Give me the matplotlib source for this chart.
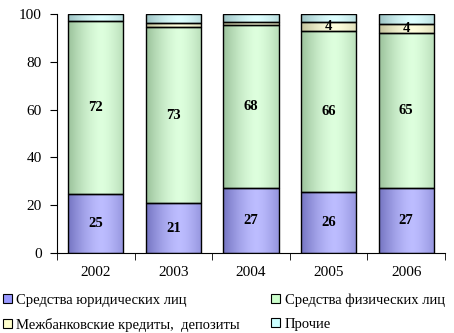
import numpy as np
import matplotlib
matplotlib.use("Agg")
import matplotlib.pyplot as plt
from matplotlib.colors import to_rgb
from matplotlib.patches import Rectangle

years = ['2002', '2003', '2004', '2005', '2006']
legal = [24.5, 20.8, 27.0, 25.4, 27.0]
private = [72.4, 73.6, 68.3, 67.5, 64.9]
interbank = [0.0, 2.0, 1.5, 3.6, 4.1]
other = [3.1, 3.6, 3.2, 3.5, 4.0]

legal_lbl = ['25', '21', '27', '26', '27']
private_lbl = ['72', '73', '68', '66', '65']
interbank_lbl = ['', '', '', '4', '4']

names = ['Средства юридических лиц', 'Средства физических лиц',
         'Межбанковские кредиты,  депозиты', 'Прочие']
colors = ['#9999FF', '#CCFFCC', '#FFFFCC', '#CCFFFF']

plt.rcParams['font.family'] = ['Liberation Serif', 'DejaVu Serif']

fig = plt.figure(figsize=(4.54, 3.33), dpi=100)
ax = fig.add_axes([57/454, 1 - 253/333, 388/454, 239/333])

x = np.arange(len(years))
width = 0.71
t = np.linspace(0, 1, 64)
shade = np.abs(t - 0.6) / 0.6


def grad_bar(xc, bottom, h, color):
    if h <= 0:
        return
    base = np.array(to_rgb(color))
    light = base + (1 - base) * 0.35
    dark = base * 0.76
    w = shade[:, None] ** 1.5
    img = light[None, :] * (1 - w) + dark[None, :] * w
    ax.imshow(img[None, :, :], extent=(xc - width/2, xc + width/2, bottom, bottom + h),
              aspect='auto', interpolation='bilinear', zorder=2)
    ax.add_patch(Rectangle((xc - width/2, bottom), width, h, fill=False,
                           edgecolor='black', linewidth=1.0, zorder=3))


series = [legal, private, interbank, other]
labels = [legal_lbl, private_lbl, interbank_lbl, None]
for i in x:
    bottom = 0.0
    for s, lbl, c in zip(series, labels, colors):
        h = s[i]
        grad_bar(i, bottom, h, c)
        if lbl is not None and lbl[i]:
            ax.text(i, bottom + h/2, lbl[i], ha='center', va='center',
                    fontsize=10.5, fontweight='bold', zorder=4)
        bottom += h

ax.set_xlim(-0.5, len(years) - 0.5)
ax.set_ylim(0, 100)
ax.set_yticks(range(0, 101, 20))
ax.set_xticks(x)
ax.set_xticklabels(years)
ax.set_xticks(np.arange(-0.5, len(years)), minor=True)
ax.tick_params(axis='x', which='major', length=0, pad=9, labelsize=11)
ax.tick_params(axis='x', which='minor', length=5, direction='out')
ax.tick_params(axis='y', length=5, labelsize=11, pad=6)
ax.spines['top'].set_visible(False)
ax.spines['right'].set_visible(False)

handles = [Rectangle((0, 0), 1, 1, facecolor=c, edgecolor='black', linewidth=0.8)
           for c in colors]
order = [0, 2, 1, 3]
fig.legend([handles[k] for k in order], [names[k] for k in order],
           loc='lower left', bbox_to_anchor=(-0.012, -0.022),
           ncol=2, frameon=False, fontsize=10.5, handlelength=0.6, handleheight=0.6,
           handletextpad=0.3, columnspacing=2.15, labelspacing=0.75,
           borderaxespad=0.2)

fig.savefig('out.png', dpi=100)
